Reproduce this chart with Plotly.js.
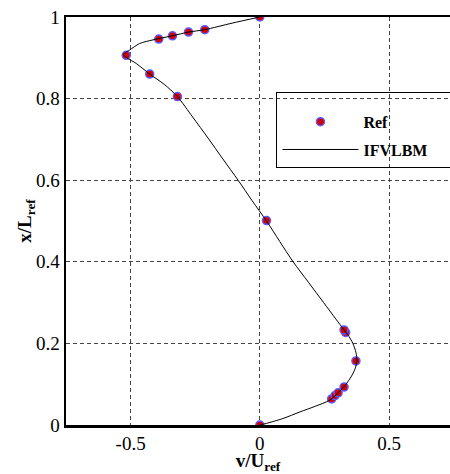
<!DOCTYPE html>
<html>
<head>
<meta charset="utf-8">
<script src="https://cdn.plot.ly/plotly-3.0.1.min.js"></script>
<style>
html,body{margin:0;padding:0;background:#fff;}
#chart{width:450px;height:474px;}
#chart svg text{font-family:"Liberation Serif","Times New Roman",serif !important;}
</style>
</head>
<body>
<div id="chart"></div>
<script>
// Reference points (v/Uref, x/Lref)
const refV = [0, 0.278, 0.291, 0.303, 0.326, 0.372, 0.332, 0.326, 0.026, -0.319, -0.426, -0.517, -0.391, -0.338, -0.276, -0.213, 0];
const refX = [0, 0.064, 0.072, 0.079, 0.093, 0.157, 0.227, 0.233, 0.501, 0.805, 0.860, 0.906, 0.946, 0.954, 0.963, 0.969, 1.0];

// IFVLBM curve
const lineV = [0, 0.026, 0.09, 0.155, 0.215, 0.271, 0.303, 0.33, 0.355, 0.37, 0.376, 0.372, 0.36, 0.345, 0.326, 0.294, 0.247, 0.188, 0.129, 0.077, 0.026, -0.03, -0.084, -0.143, -0.2, -0.26, -0.319, -0.37, -0.426, -0.478, -0.512, -0.528, -0.52, -0.504, -0.465, -0.413, -0.338, -0.276, -0.213, -0.107, 0];
const lineX = [0, 0.004, 0.016, 0.032, 0.046, 0.061, 0.079, 0.097, 0.12, 0.14, 0.157, 0.178, 0.2, 0.217, 0.233, 0.26, 0.3, 0.35, 0.4, 0.45, 0.5, 0.55, 0.6, 0.652, 0.703, 0.755, 0.805, 0.835, 0.860, 0.886, 0.899, 0.908, 0.913, 0.919, 0.935, 0.944, 0.954, 0.963, 0.969, 0.985, 1.0];

const xTicks = [-0.5, 0, 0.5];
const xTickText = ['-0.5', '0', '0.5'];
const yTicks = [0, 0.2, 0.4, 0.6, 0.8, 1];
const yTickText = ['0', '0.2', '0.4', '0.6', '0.8', '1'];

const serif = 'Liberation Serif, Times New Roman, serif';

const traces = [
  {
    x: refV, y: refX, type: 'scatter', mode: 'markers', name: 'Ref',
    legendgroup: 'a',
    marker: {size: 8, color: '#d40000', line: {color: '#5a5aff', width: 1.5}}
  },
  {
    x: lineV, y: lineX, type: 'scatter', mode: 'lines', name: 'IFVLBM&nbsp;&nbsp;&nbsp;&nbsp;&nbsp;',
    legendgroup: 'b',
    line: {color: '#000', width: 1, shape: 'spline', smoothing: 0.8}
  }
];

const layout = {
  width: 450, height: 474,
  margin: {l: 66, r: 0, t: 17, b: 49, autoexpand: false},
  paper_bgcolor: '#fff', plot_bgcolor: '#fff',
  font: {family: serif, color: '#000', size: 19},
  showlegend: true,
  legend: {
    x: 0.548, y: 0.816, xanchor: 'left', yanchor: 'top',
    bgcolor: 'rgba(0,0,0,0)', bordercolor: '#000', borderwidth: 1,
    font: {family: serif, size: 16, color: '#000', weight: 'bold'},
    title: {text: '&nbsp;', font: {family: serif, size: 9}},
    traceorder: 'grouped', tracegroupgap: 4, itemwidth: 76
  },
  xaxis: {
    range: [-0.75, 0.736], tickvals: xTicks, ticktext: xTickText,
    showline: true, linecolor: '#000', linewidth: 2.5, mirror: true,
    showgrid: true, gridcolor: '#444', gridwidth: 1, griddash: '4px,3px',
    zeroline: false, ticks: '', tickfont: {family: serif, size: 19},
    title: {text: '<b>v/U<sub>ref</sub></b>', font: {family: serif, size: 19}, standoff: 0}
  },
  yaxis: {
    range: [0, 1], tickvals: yTicks, ticktext: yTickText,
    showline: true, linecolor: '#000', linewidth: 2.5, mirror: false,
    showgrid: true, gridcolor: '#444', gridwidth: 1, griddash: '4px,3px',
    zeroline: false, ticks: '', tickfont: {family: serif, size: 19},
    title: {text: '<b>x/L<sub>ref</sub></b>', font: {family: serif, size: 19}, standoff: 0}
  }
};

Plotly.newPlot('chart', traces, layout, {displayModeBar: false, staticPlot: true});
</script>
</body>
</html>
